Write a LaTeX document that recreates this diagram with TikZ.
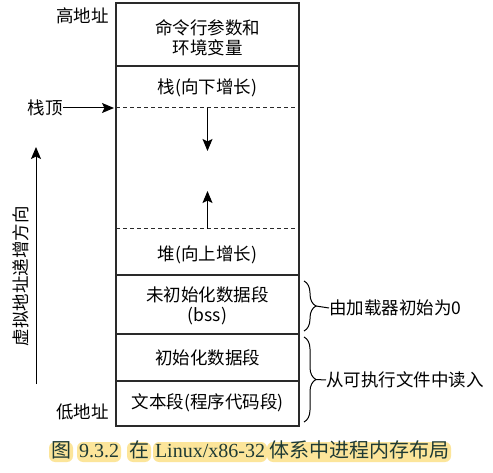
\documentclass[tikz,border=0pt]{standalone}
\usepackage{fontspec}
\setmainfont{Noto Sans CJK SC}
\newfontfamily\capserif{Liberation Serif}
\newfontfamily\capcjk{Noto Sans CJK SC}
\usetikzlibrary{arrows.meta,decorations.pathreplacing}
\definecolor{linec}{HTML}{2A2A2A}
\definecolor{hl}{HTML}{FCE59A}
\definecolor{captxt}{HTML}{1E3A34}
\begin{document}
\begin{tikzpicture}[x=1pt,y=-1pt,
  lbl/.style={font=\fontsize{17.5}{20}\selectfont, align=center, inner sep=0pt, text=black},
  seg/.style={draw=linec, line width=1.4pt},
  dsh/.style={draw=linec, line width=1pt, dash pattern=on 4pt off 3pt},
  arr/.style={draw=black, line width=1pt, -{Stealth[length=12pt,width=10pt,inset=2.5pt]}},
  brc/.style={draw=black, line width=1pt, decorate, decoration={brace, amplitude=12pt}},
  captag/.style={fill=hl, rounded corners=6pt, inner xsep=2pt, inner ysep=0pt, text=captxt,
    font=\fontsize{20}{22}\selectfont, text height=15pt, text depth=5pt, anchor=center},
]
\useasboundingbox (0,0) rectangle (493,473);
\fill[white] (0,0) rectangle (493,473);

% memory box
\draw[seg] (116,3) rectangle (299,426);
\draw[seg] (116,66) -- (299,66);
\draw[seg] (116,275) -- (299,275);
\draw[seg] (116,334) -- (299,334);
\draw[seg] (116,381) -- (299,381);
\draw[dsh] (116,108) -- (299,108);
\draw[dsh] (116,229) -- (299,229);

% segment labels
\node[lbl] (args) at (207.5,38) {命令行参数和\\环境变量};
\node[lbl] (stack) at (207.5,88) {栈(向下增长)};
\node[lbl] (heap) at (207.5,255) {堆(向上增长)};
\node[lbl] (bss) at (207.5,306) {未初始化数据段\\(bss)};
\node[lbl] (data) at (207.5,358) {初始化数据段};
\node[lbl] (text) at (207.5,403) {文本段(程序代码段)};

% growth arrows
\coordinate (stacktop) at (207.5,108);
\coordinate (stackend) at (207.5,151);
\coordinate (heaptop) at (207.5,229);
\coordinate (heapend) at (207.5,191);
\draw[arr] (stacktop) -- (stackend);
\draw[arr] (heaptop) -- (heapend);

% left labels
\node[lbl, anchor=east] (high) at (109,16) {高地址};
\node[lbl, anchor=east] (low) at (109,412) {低地址};
\node[lbl, anchor=east] (sp) at (63,108) {栈顶};
\coordinate (spend) at (114,108);
\draw[arr] (sp.east) -- (spend);

\coordinate (dirlow) at (36,384);
\coordinate (dirhigh) at (36,147);
\draw[arr] (dirlow) -- (dirhigh);
\node[lbl, rotate=90] (dir) at (21,276) {虚拟地址递增方向};

% braces
\draw[brc] (304,281) -- (304,331);
\coordinate (b1tip) at (316,306);
\node[lbl, anchor=west] (zero) at (329,308) {由加载器初始为0};
\draw[line width=1pt] (b1tip) -- (zero.west);

\draw[brc] (304,337) -- (304,422);
\coordinate (b2tip) at (316,379.5);
\node[lbl, anchor=west] (read) at (326,380) {从可执行文件中读入};
\draw[line width=1pt] (b2tip) -- (read.west);

% caption
\node[captag] (c1) at (61,452) {\capcjk 图};
\node[captag] (c2) at (99,452) {\capserif 9.3.2};
\node[captag] (c3) at (139,452) {\capcjk 在};
\node[captag] (c4) at (210,452) {\capserif Linux/x86-32};
\node[captag] (c5) at (359,452) {\capcjk 体系中进程内存布局};
\end{tikzpicture}
\end{document}
